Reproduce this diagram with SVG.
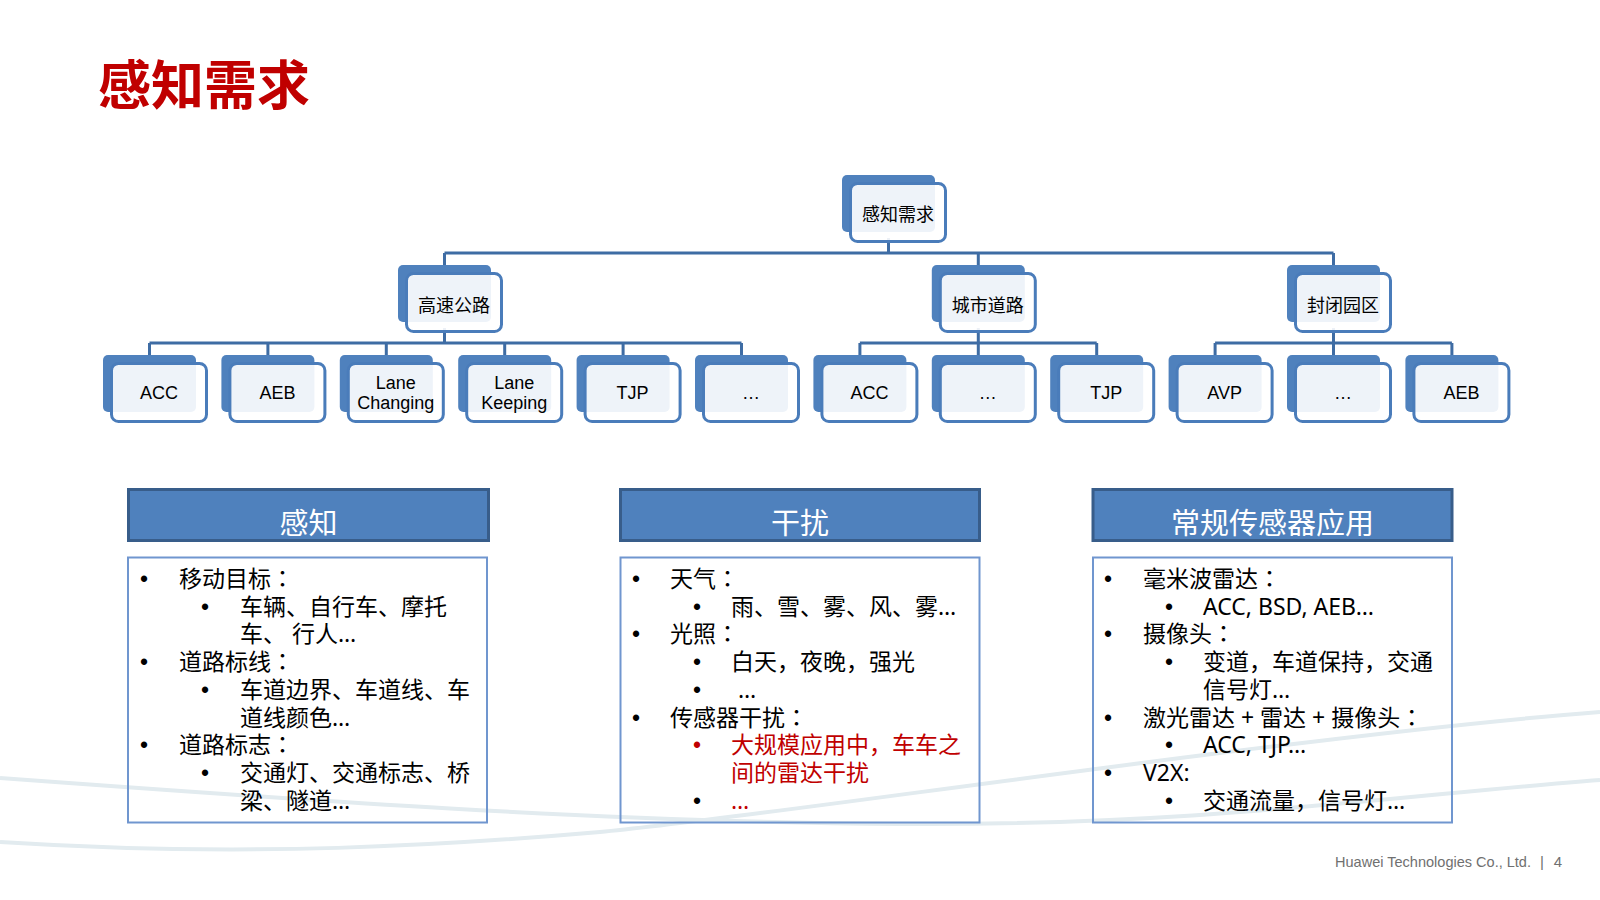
<svg xmlns="http://www.w3.org/2000/svg" width="1600" height="900" viewBox="0 0 1600 900">
<style>
.nb{fill:#4f81bd}
.nf{fill:#fff;fill-opacity:0.9;stroke:#4a7cba;stroke-width:3}
.nl{font-family:"Liberation Sans","Noto Sans CJK SC",sans-serif;font-size:18px;fill:#000;text-anchor:middle}
.nc{font-family:"Noto Sans CJK SC",sans-serif;font-size:18px;fill:#000;text-anchor:middle}
.conn{fill:none;stroke:#3e6ca4;stroke-width:3}
.hd{fill:#4f81bd;stroke:#385d8a;stroke-width:3}
.ht{font-family:"Noto Sans CJK SC",sans-serif;font-size:29px;fill:#fff;text-anchor:middle}
.bx{fill:none;stroke:#7096cf;stroke-width:2}
.t{font-family:"Noto Sans","Noto Sans CJK SC",sans-serif;font-size:23px;fill:#000}
.p{font-family:"Noto Sans CJK TC",sans-serif}
.b{font-family:"Liberation Sans",sans-serif;font-size:23px;fill:#000;text-anchor:middle}
.red{fill:#c00000}
.sw{fill:none;stroke:#e2ebef;stroke-width:4}
.ft{font-family:"Liberation Sans",sans-serif;font-size:15px;fill:#707070}
</style>
<rect width="1600" height="900" fill="#fff"/>
<g id="background">
<path class="sw" d="M0,778 C300,800 600,822 900,824 S1400,795 1600,780"/>
<path class="sw" d="M0,842 C250,858 450,845 600,832 S1300,735 1600,712"/>
</g>
<text x="98" y="105" font-family="Noto Sans CJK SC, sans-serif" font-size="53" font-weight="bold" fill="#c00000">感知需求</text>
<g id="connectors">
<path class="conn" d="M888.5,238 V253 M444.5,253 H1333.5 M444.5,253 V268 M978.3,253 V268 M1333.5,253 V268"/>
<path class="conn" d="M444.5,328 V343 M149.5,343 H741.5 M149.5,343 V358 M267.9,343 V358 M386.3,343 V358 M504.7,343 V358 M623.1,343 V358 M741.5,343 V358"/>
<path class="conn" d="M978.3,328 V343 M859.9,343 H1096.7 M859.9,343 V358 M978.3,343 V358 M1096.7,343 V358"/>
<path class="conn" d="M1333.5,328 V343 M1215.1,343 H1451.9 M1215.1,343 V358 M1333.5,343 V358 M1451.9,343 V358"/>
</g>
<g id="n-root" transform="translate(842,175)"><rect class="nb" width="93" height="57" rx="5"/><rect class="nf" x="8.5" y="8.5" width="95" height="58" rx="7"/><text class="nc" x="56" y="46">感知需求</text></g>
<g id="n-highway" transform="translate(398,265)"><rect class="nb" width="93" height="57" rx="5"/><rect class="nf" x="8.5" y="8.5" width="95" height="58" rx="7"/><text class="nc" x="56" y="47">高速公路</text></g>
<g id="n-urban" transform="translate(931.8,265)"><rect class="nb" width="93" height="57" rx="5"/><rect class="nf" x="8.5" y="8.5" width="95" height="58" rx="7"/><text class="nc" x="56" y="47">城市道路</text></g>
<g id="n-closed" transform="translate(1287,265)"><rect class="nb" width="93" height="57" rx="5"/><rect class="nf" x="8.5" y="8.5" width="95" height="58" rx="7"/><text class="nc" x="56" y="47">封闭园区</text></g>
<g id="n-h-acc" transform="translate(103,355)"><rect class="nb" width="93" height="57" rx="5"/><rect class="nf" x="8.5" y="8.5" width="95" height="58" rx="7"/><text class="nl" x="56" y="44">ACC</text></g>
<g id="n-h-aeb" transform="translate(221.4,355)"><rect class="nb" width="93" height="57" rx="5"/><rect class="nf" x="8.5" y="8.5" width="95" height="58" rx="7"/><text class="nl" x="56" y="44">AEB</text></g>
<g id="n-h-lc" transform="translate(339.8,355)"><rect class="nb" width="93" height="57" rx="5"/><rect class="nf" x="8.5" y="8.5" width="95" height="58" rx="7"/><text class="nl" x="56" y="34">Lane</text><text class="nl" x="56" y="54">Changing</text></g>
<g id="n-h-lk" transform="translate(458.2,355)"><rect class="nb" width="93" height="57" rx="5"/><rect class="nf" x="8.5" y="8.5" width="95" height="58" rx="7"/><text class="nl" x="56" y="34">Lane</text><text class="nl" x="56" y="54">Keeping</text></g>
<g id="n-h-tjp" transform="translate(576.6,355)"><rect class="nb" width="93" height="57" rx="5"/><rect class="nf" x="8.5" y="8.5" width="95" height="58" rx="7"/><text class="nl" x="56" y="44">TJP</text></g>
<g id="n-h-more" transform="translate(695,355)"><rect class="nb" width="93" height="57" rx="5"/><rect class="nf" x="8.5" y="8.5" width="95" height="58" rx="7"/><text class="nl" x="56" y="44">…</text></g>
<g id="n-u-acc" transform="translate(813.4,355)"><rect class="nb" width="93" height="57" rx="5"/><rect class="nf" x="8.5" y="8.5" width="95" height="58" rx="7"/><text class="nl" x="56" y="44">ACC</text></g>
<g id="n-u-more" transform="translate(931.8,355)"><rect class="nb" width="93" height="57" rx="5"/><rect class="nf" x="8.5" y="8.5" width="95" height="58" rx="7"/><text class="nl" x="56" y="44">…</text></g>
<g id="n-u-tjp" transform="translate(1050.2,355)"><rect class="nb" width="93" height="57" rx="5"/><rect class="nf" x="8.5" y="8.5" width="95" height="58" rx="7"/><text class="nl" x="56" y="44">TJP</text></g>
<g id="n-c-avp" transform="translate(1168.6,355)"><rect class="nb" width="93" height="57" rx="5"/><rect class="nf" x="8.5" y="8.5" width="95" height="58" rx="7"/><text class="nl" x="56" y="44">AVP</text></g>
<g id="n-c-more" transform="translate(1287,355)"><rect class="nb" width="93" height="57" rx="5"/><rect class="nf" x="8.5" y="8.5" width="95" height="58" rx="7"/><text class="nl" x="56" y="44">…</text></g>
<g id="n-c-aeb" transform="translate(1405.4,355)"><rect class="nb" width="93" height="57" rx="5"/><rect class="nf" x="8.5" y="8.5" width="95" height="58" rx="7"/><text class="nl" x="56" y="44">AEB</text></g>

<g id="panel-perception">
<rect class="hd" x="128.5" y="489.5" width="360" height="51"/>
<text class="ht" x="308.5" y="534">感知</text>
<rect class="bx" x="128" y="557.5" width="359" height="265"/>
<text class="b" x="144" y="587">•</text><text class="t" x="179" y="587">移动目标<tspan class="p">：</tspan></text>
<text class="b" x="205" y="614.7">•</text><text class="t" x="240" y="614.7">车辆、自行车、摩托</text>
<text class="t" x="240" y="642.4">车、 行人…</text>
<text class="b" x="144" y="670.1">•</text><text class="t" x="179" y="670.1">道路标线<tspan class="p">：</tspan></text>
<text class="b" x="205" y="697.8">•</text><text class="t" x="240" y="697.8">车道边界、车道线、车</text>
<text class="t" x="240" y="725.5">道线颜色…</text>
<text class="b" x="144" y="753.2">•</text><text class="t" x="179" y="753.2">道路标志<tspan class="p">：</tspan></text>
<text class="b" x="205" y="780.9">•</text><text class="t" x="240" y="780.9">交通灯、交通标志、桥</text>
<text class="t" x="240" y="808.6">梁、隧道…</text>
</g>

<g id="panel-interference">
<rect class="hd" x="620.5" y="489.5" width="359" height="51"/>
<text class="ht" x="800" y="534">干扰</text>
<rect class="bx" x="620.5" y="557.5" width="359" height="265"/>
<text class="b" x="636" y="587">•</text><text class="t" x="670" y="587">天气<tspan class="p">：</tspan></text>
<text class="b" x="697" y="614.7">•</text><text class="t" x="731" y="614.7">雨、雪、雾、风、雾…</text>
<text class="b" x="636" y="642.4">•</text><text class="t" x="670" y="642.4">光照<tspan class="p">：</tspan></text>
<text class="b" x="697" y="670.1">•</text><text class="t" x="731" y="670.1">白天，夜晚，强光</text>
<text class="b" x="697" y="697.8">•</text><text class="t" x="738" y="697.8">…</text>
<text class="b" x="636" y="725.5">•</text><text class="t" x="670" y="725.5">传感器干扰<tspan class="p">：</tspan></text>
<text class="b red" x="697" y="753.2">•</text><text class="t red" x="731" y="753.2">大规模应用中，车车之</text>
<text class="t red" x="731" y="780.9">间的雷达干扰</text>
<text class="b" x="697" y="808.6">•</text><text class="t red" x="731" y="808.6">…</text>
</g>

<g id="panel-sensors">
<rect class="hd" x="1093" y="489.5" width="359" height="51"/>
<text class="ht" x="1272.5" y="534">常规传感器应用</text>
<rect class="bx" x="1093" y="557.5" width="359" height="265"/>
<text class="b" x="1108" y="587">•</text><text class="t" x="1143" y="587">毫米波雷达<tspan class="p">：</tspan></text>
<text class="b" x="1169" y="614.7">•</text><text class="t" x="1203" y="614.7">ACC, BSD, AEB…</text>
<text class="b" x="1108" y="642.4">•</text><text class="t" x="1143" y="642.4">摄像头<tspan class="p">：</tspan></text>
<text class="b" x="1169" y="670.1">•</text><text class="t" x="1203" y="670.1">变道，车道保持，交通</text>
<text class="t" x="1203" y="697.8">信号灯…</text>
<text class="b" x="1108" y="725.5">•</text><text class="t" x="1143" y="725.5">激光雷达 + 雷达 + 摄像头<tspan class="p">：</tspan></text>
<text class="b" x="1169" y="753.2">•</text><text class="t" x="1203" y="753.2">ACC, TJP…</text>
<text class="b" x="1108" y="780.9">•</text><text class="t" x="1143" y="780.9">V2X:</text>
<text class="b" x="1169" y="808.6">•</text><text class="t" x="1203" y="808.6">交通流量，信号灯…</text>
</g>

<g id="footer">
<text class="ft" x="1335" y="867" textLength="196" lengthAdjust="spacingAndGlyphs">Huawei Technologies Co., Ltd.</text>
<text class="ft" x="1542" y="867" text-anchor="middle">|</text>
<text class="ft" x="1558" y="867" text-anchor="middle">4</text>
</g>
</svg>
